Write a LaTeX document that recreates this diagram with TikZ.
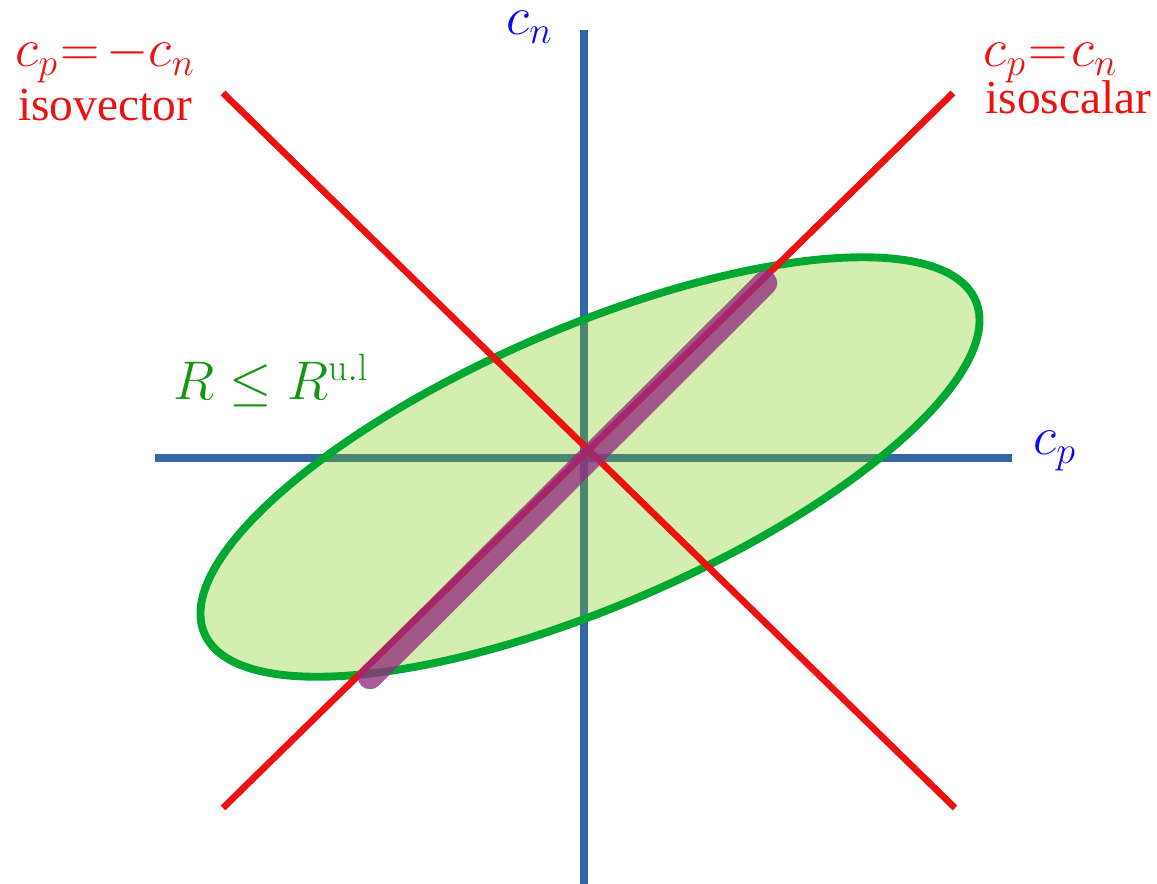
\RequirePackage{fix-cm}
\documentclass[tikz,border=0pt]{standalone}
\usepackage[no-math]{fontspec}
\setmainfont{Liberation Serif}
\definecolor{axisblue}{RGB}{52,101,164}
\definecolor{linered}{RGB}{236,18,18}
\definecolor{labelblue}{RGB}{10,10,240}
\definecolor{ellgreen}{RGB}{0,168,50}
\definecolor{ellfill}{RGB}{121,203,12}
\definecolor{lblgreen}{RGB}{20,150,20}
\definecolor{purp}{RGB}{148,44,128}
\tikzset{
  axisline/.style={draw=axisblue,line width=4.5pt},
  redline/.style={draw=linered,line width=3.8pt},
  purpline/.style={draw=purp,line width=14pt,line cap=round,draw opacity=0.78},
  ellstyle/.style={draw=ellgreen,line width=4.5pt,fill=ellfill,fill opacity=0.33},
  mathlbl/.style={inner sep=0pt,font=\fontsize{31}{36}\selectfont},
  textlbl/.style={inner sep=0pt,font=\fontsize{27}{31}\selectfont},
}
\begin{document}
\begin{tikzpicture}[x=0.02cm,y=0.02cm]
\useasboundingbox (0,0) rectangle (1157,884);
% coordinates
\coordinate (vtop) at (584,854);
\coordinate (vbot) at (584,0);
\coordinate (hleft) at (155,426);
\coordinate (hright) at (1012,426);
\coordinate (isA) at (223,76);
\coordinate (isB) at (953,791);
\coordinate (ivA) at (223,791);
\coordinate (ivB) at (955,76);
\coordinate (pA) at (370,207);
\coordinate (pB) at (765,601);
\coordinate (ec) at (590,417);
% axes
\draw[axisline] (vbot) -- (vtop);
\draw[axisline] (hleft) -- (hright);
% ellipse
\path[ellstyle,rotate around={23.35:(ec)}] (ec) ellipse [x radius=420, y radius=139];
% red lines
\draw[redline] (isA) -- (isB);
\draw[redline] (ivA) -- (ivB);
% purple segment
\draw[purpline] (pA) -- (pB);
% labels
\node[mathlbl,text=labelblue,anchor=base west] (cn) at (506,849) {$c_n$};
\node[mathlbl,text=labelblue,anchor=base west] (cp) at (1033,429) {$c_p$};
\node[mathlbl,text=linered,anchor=base west] (ivlab) at (15,817) {$c_p\mkern1mu{=}\mkern2mu{-}c_n$};
\node[textlbl,text=linered,anchor=base west] (ivtxt) at (18,763) {isovector};
\node[mathlbl,text=linered,anchor=base west] (islab) at (983,817) {$c_p\mkern1mu{=}\mkern1mu c_n$};
\node[textlbl,text=linered,anchor=base west] (istxt) at (985,770) {isoscalar};
\node[mathlbl,text=lblgreen,anchor=base west] (rlab) at (173,484) {$R\leq R^{\mathrm{u.l}}$};
\end{tikzpicture}
\end{document}
